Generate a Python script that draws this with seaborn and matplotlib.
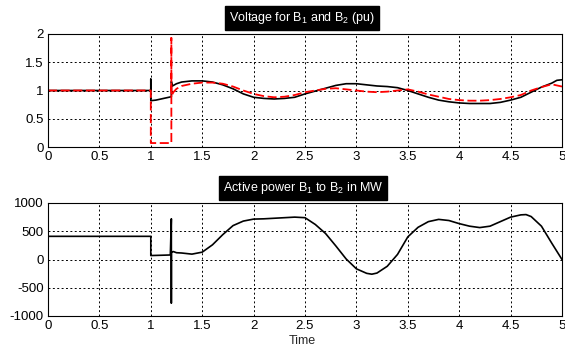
import pandas as pd
import matplotlib
matplotlib.use("Agg")
import matplotlib.pyplot as plt
import seaborn as sns

# ------ datos ------
# tension de la barra B1 (linea negra)
t_b1 = [0, 1.0, 1.0, 1.0, 1.05, 1.1, 1.15, 1.2, 1.2, 1.21, 1.25, 1.3, 1.35, 1.4,
        1.45, 1.5, 1.6, 1.7, 1.8, 1.9, 2.0, 2.1, 2.2, 2.3, 2.4, 2.5, 2.6, 2.7,
        2.8, 2.9, 3.0, 3.1, 3.2, 3.3, 3.4, 3.5, 3.6, 3.7, 3.8, 3.9, 4.0, 4.1,
        4.2, 4.3, 4.4, 4.5, 4.6, 4.7, 4.8, 4.9, 4.95, 5.0]
v_b1 = [1.0, 1.0, 1.2, 0.82, 0.83, 0.85, 0.87, 0.89, 1.16, 1.08, 1.12, 1.15,
        1.16, 1.17, 1.17, 1.17, 1.15, 1.1, 1.03, 0.94, 0.88, 0.86, 0.85, 0.86,
        0.88, 0.94, 0.99, 1.04, 1.09, 1.12, 1.12, 1.1, 1.08, 1.07, 1.05, 1.0,
        0.94, 0.88, 0.83, 0.80, 0.78, 0.77, 0.77, 0.77, 0.79, 0.83, 0.88, 0.97,
        1.06, 1.13, 1.18, 1.19]

# tension de la barra B2 (linea roja discontinua)
t_b2 = [0, 1.0, 1.0, 1.2, 1.2, 1.2, 1.22, 1.25, 1.3, 1.4, 1.5, 1.6, 1.7, 1.8,
        1.9, 2.0, 2.1, 2.2, 2.3, 2.4, 2.5, 2.6, 2.7, 2.8, 2.9, 3.0, 3.1, 3.2,
        3.3, 3.4, 3.5, 3.6, 3.7, 3.8, 3.9, 4.0, 4.1, 4.2, 4.3, 4.4, 4.5, 4.6,
        4.7, 4.8, 4.9, 5.0]
v_b2 = [1.0, 1.0, 0.07, 0.07, 1.93, 0.9, 0.97, 1.03, 1.08, 1.12, 1.14, 1.14,
        1.12, 1.07, 1.0, 0.94, 0.9, 0.88, 0.89, 0.92, 0.97, 1.0, 1.03, 1.04,
        1.02, 1.0, 0.98, 0.97, 0.98, 1.0, 1.02, 0.98, 0.93, 0.89, 0.85, 0.83,
        0.82, 0.82, 0.83, 0.85, 0.88, 0.92, 1.0, 1.06, 1.11, 1.07]

# potencia activa de B1 a B2 (MW)
t_p = [0, 1.0, 1.0, 1.1, 1.19, 1.2, 1.2, 1.2, 1.22, 1.25, 1.3, 1.4, 1.5, 1.6,
       1.7, 1.8, 1.9, 2.0, 2.1, 2.2, 2.3, 2.4, 2.5, 2.6, 2.7, 2.8, 2.9, 3.0,
       3.1, 3.15, 3.2, 3.3, 3.4, 3.5, 3.6, 3.7, 3.8, 3.9, 4.0, 4.1, 4.2, 4.3,
       4.4, 4.5, 4.6, 4.65, 4.7, 4.8, 4.9, 5.0]
p_mw = [410, 410, 70, 75, 80, 720, -770, 130, 140, 120, 115, 95, 130, 260, 440,
        600, 680, 715, 720, 730, 740, 750, 740, 620, 460, 240, 10, -165, -245,
        -260, -240, -120, 90, 400, 570, 670, 710, 690, 635, 590, 565, 590, 670,
        750, 790, 795, 760, 590, 290, 0]

x_ticks = [0, 0.5, 1, 1.5, 2, 2.5, 3, 3.5, 4, 4.5, 5]
v_ticks = [0, 0.5, 1, 1.5, 2]
p_ticks = [-1000, -500, 0, 500, 1000]

sns.set_style("white")
plt.rcParams["font.family"] = ["Liberation Sans", "DejaVu Sans"]
plt.rcParams["mathtext.default"] = "regular"
plt.rcParams["font.size"] = 9

df_b1 = pd.DataFrame({"t": t_b1, "v": v_b1})
df_b2 = pd.DataFrame({"t": t_b2, "v": v_b2})
df_p = pd.DataFrame({"t": t_p, "p": p_mw})

fig = plt.figure(figsize=(5.65, 3.49), dpi=100)
ax1 = fig.add_axes([48 / 565, 1 - 147 / 349, 514 / 565, 113 / 349])
ax2 = fig.add_axes([48 / 565, 1 - 316 / 349, 514 / 565, 113 / 349])


def estilo(ax, yticks, ylim):
    """grilla punteada y ejes estilo matlab"""
    ax.set_xlim(0, 5)
    ax.set_ylim(*ylim)
    ax.set_xticks(x_ticks)
    ax.set_xticklabels([f"{x:g}" for x in x_ticks])
    ax.set_yticks(yticks)
    ax.set_yticklabels([f"{y:g}" for y in yticks])
    ax.grid(True, color="black", linestyle=(0, (2, 2.5)), linewidth=0.7)
    for s in ax.spines.values():
        s.set_color("black")
        s.set_linewidth(0.8)
    ax.tick_params(axis="both", labelsize=9.5, length=0, pad=3, colors="black")
    ax.set_xlabel("")
    ax.set_ylabel("")


# grafico de tensiones
sns.lineplot(data=df_b1, x="t", y="v", ax=ax1, color="black", linewidth=1.2,
             estimator=None, sort=False)
sns.lineplot(data=df_b2, x="t", y="v", ax=ax1, color="red", linewidth=1.3,
             linestyle=(0, (5, 2)), estimator=None, sort=False)
estilo(ax1, v_ticks, (0, 2))

# grafico de potencia
sns.lineplot(data=df_p, x="t", y="p", ax=ax2, color="black", linewidth=1.2,
             estimator=None, sort=False)
estilo(ax2, p_ticks, (-1000, 1000))

caja = dict(facecolor="black", edgecolor="black", pad=3)
fig.text(302 / 565, 1 - 18 / 349, "Voltage for B$_1$ and B$_2$ (pu)",
         color="white", ha="center", va="center", fontsize=9, bbox=caja)
fig.text(303 / 565, 1 - 188 / 349, "Active power B$_1$ to B$_2$ in MW",
         color="white", ha="center", va="center", fontsize=9, bbox=caja)
fig.text(302 / 565, 1 - 341 / 349, "Time", ha="center", va="center",
         fontsize=9)

fig.savefig("out.png", dpi=100)
